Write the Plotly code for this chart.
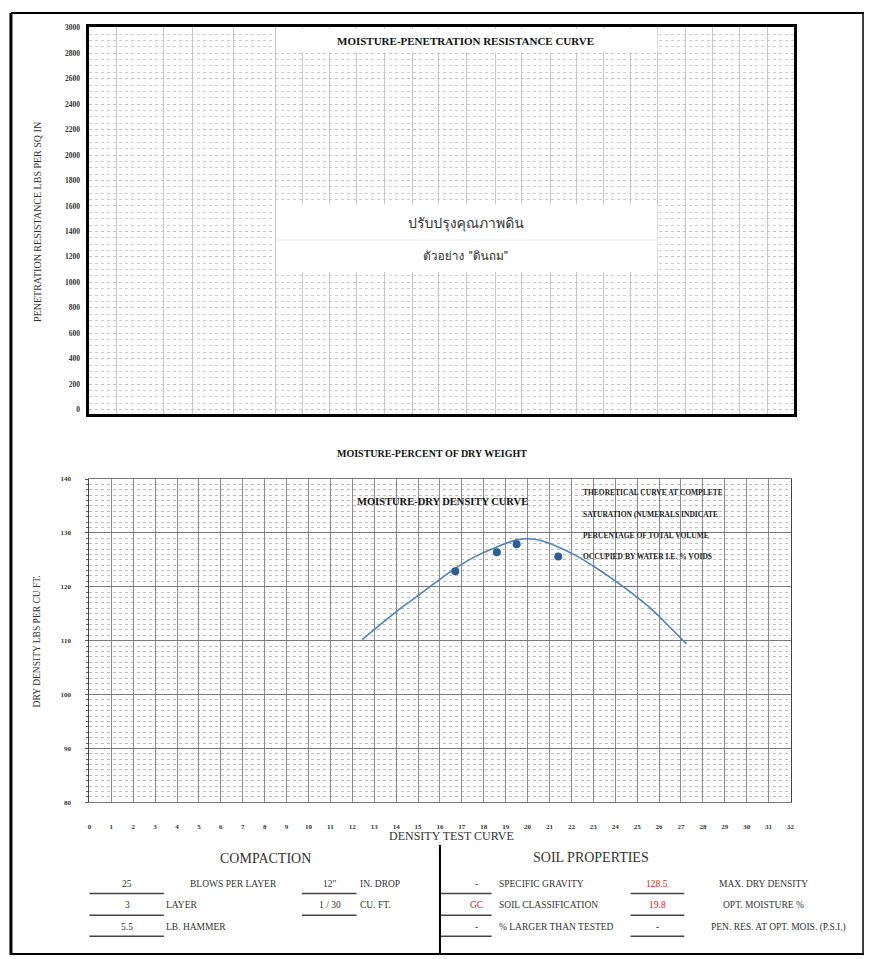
import plotly.graph_objects as go

# ---------------- data ----------------
pen_ticks = list(range(0, 3001, 200))
moisture_ticks = list(range(0, 33))
density_ticks = list(range(80, 141, 10))

# fitted moisture-density curve
curve_moisture = [12.45, 13.4, 14.2, 15.05, 15.9, 16.7, 17.6, 18.6, 19.5, 20.0,
                  20.6, 21.4, 22.3, 23.2, 24.0, 24.7, 25.5, 26.2, 27.25]
curve_density = [110.2, 113.4, 116.0, 118.5, 121.1, 123.4, 125.6, 127.4, 128.7, 128.9,
                 128.6, 127.4, 125.6, 123.3, 121.1, 119.0, 116.4, 113.7, 109.4]

# test points
test_moisture = [16.7, 18.6, 19.5, 21.4]
test_density = [122.9, 126.4, 127.9, 125.6]

note_lines = ["THEORETICAL CURVE AT COMPLETE",
              "SATURATION (NUMERALS INDICATE",
              "PERCENTAGE OF TOTAL VOLUME",
              "OCCUPIED BY WATER I.E. % VOIDS"]

thai_title = "ปรับปรุงคุณภาพดิน"
thai_sample = "ตัวอย่าง \"ดินถม\""

compaction_values = ["25", "3", "5.5"]
compaction_labels = ["BLOWS PER LAYER", "LAYER", "LB. HAMMER"]
drop_values = ["12\"", "1 / 30"]
drop_labels = ["IN. DROP", "CU. FT."]

soil_values_a = ["-", "GC", "-"]
soil_labels_a = ["SPECIFIC GRAVITY", "SOIL CLASSIFICATION", "% LARGER THAN TESTED"]
soil_values_b = ["128.5", "19.8", "-"]
soil_labels_b = ["MAX. DRY DENSITY", "OPT. MOISTURE %", "PEN. RES. AT OPT. MOIS. (P.S.I.)"]
red_a = [False, True, False]
red_b = [True, True, False]

# ---------------- helpers ----------------
W, H = 870, 959
SERIF = "Liberation Serif, Times New Roman, serif"
THAI = "Tahoma, Loma, Garuda, Noto Sans Thai, Noto Sans Thai UI, Tlwg Typo, Sarabun, Noto Sans, sans-serif"


def px(x):
    return x / W


def py(y):
    return 1 - y / H


annotations = []
shapes = []


def ann(text, x, y, size=10, bold=False, color="#222", xanchor="center",
        family=SERIF, angle=0):
    annotations.append(dict(
        text=text, x=px(x), y=py(y), xref="paper", yref="paper",
        showarrow=False, xanchor=xanchor, yanchor="middle", textangle=angle,
        font=dict(family=family, size=size, color=color,
                  weight="bold" if bold else "normal")))


def pline(x0, y0, x1, y1, width=1.0, color="black"):
    shapes.append(dict(type="line", xref="paper", yref="paper",
                       x0=px(x0), y0=py(y0), x1=px(x1), y1=py(y1),
                       line=dict(color=color, width=width), layer="above"))


# ---------------- figure ----------------
fig = go.Figure()
fig.add_trace(go.Scatter(x=curve_moisture, y=curve_density, mode="lines",
                         line=dict(color="#4F81BD", width=1.6, shape="spline"),
                         xaxis="x", yaxis="y", showlegend=False, hoverinfo="skip"))
fig.add_trace(go.Scatter(x=test_moisture, y=test_density, mode="markers",
                         marker=dict(color="#2F5C92", size=8),
                         xaxis="x", yaxis="y", showlegend=False))
fig.add_trace(go.Scatter(x=[None], y=[None], xaxis="x2", yaxis="y2", showlegend=False))

# top chart geometry (pixels)
T_L, T_R, T_T, T_B = 88, 797, 23, 413
top_grid_px = [115, 163, 192, 233, 275, 303, 330, 357, 385, 413, 440, 468, 497,
               523, 552, 578, 606, 633, 660, 688, 715, 743, 771]


def tx(p):
    return (p - T_L) / (T_R - T_L) * 32


u_per_px = 3000 / (409 - 24)


def ty(p):
    return (409 - p) * u_per_px


top_grid_x = [tx(p) for p in top_grid_px]
top_range = [ty(T_B), ty(T_T)]

tickfont_small = dict(family=SERIF, size=7, color="#333", weight="bold")

fig.update_layout(
    width=W, height=H, autosize=False,
    margin=dict(l=0, r=0, t=0, b=0),
    paper_bgcolor="white", plot_bgcolor="white",
    showlegend=False,
    xaxis=dict(domain=[px(88), px(794)], range=[0, 32], tickvals=moisture_ticks,
               showgrid=True, gridcolor="#8c8c8c", gridwidth=1, zeroline=False,
               showline=True, linecolor="#777", linewidth=1, mirror=True,
               ticks="", tickfont=tickfont_small, ticklabelstandoff=17, anchor="y"),
    yaxis=dict(domain=[py(805), py(479)], range=[80, 140], tickvals=density_ticks,
               showgrid=True, gridcolor="#7a7a7a", gridwidth=1, zeroline=False,
               showline=True, linecolor="#444", linewidth=1, mirror=True,
               ticks="outside", ticklen=3, tickcolor="#555",
               minor=dict(dtick=1, tick0=80, showgrid=True, gridcolor="#bdbdbd",
                          griddash="dot", ticks="outside", ticklen=2, tickcolor="#666"),
               tickfont=tickfont_small, ticklabelstandoff=13, anchor="x"),
    xaxis2=dict(domain=[px(T_L), px(T_R)], range=[0, 32], tickvals=top_grid_x,
                showticklabels=False, ticks="", showgrid=True, gridcolor="#c8c8c8",
                gridwidth=1, zeroline=False, showline=True, linecolor="black",
                linewidth=3, mirror=True, anchor="y2"),
    yaxis2=dict(domain=[py(T_B), py(T_T)], range=top_range, tickvals=pen_ticks,
                showgrid=True, gridcolor="#c4c4c4", griddash="dot", zeroline=False,
                minor=dict(dtick=50, tick0=0, showgrid=True, gridcolor="#cfcfcf",
                           griddash="dot"),
                showline=True, linecolor="black", linewidth=3, mirror=True,
                ticks="", tickfont=dict(family=SERIF, size=7.5, color="#333", weight="bold"),
                ticklabelstandoff=5, anchor="x2"),
)

# white boxes in the top chart (cover the grid, below the text)
shapes.append(dict(type="rect", xref="x2", yref="y2", x0=tx(276), x1=tx(660),
                   y0=ty(49), y1=ty(T_T + 2), fillcolor="white", line=dict(width=0),
                   layer="above"))
shapes.append(dict(type="rect", xref="x2", yref="y2", x0=tx(276), x1=tx(660),
                   y0=ty(270), y1=ty(202), fillcolor="white", line=dict(width=0),
                   layer="above"))
shapes.append(dict(type="line", xref="x2", yref="y2", x0=tx(276), x1=tx(660),
                   y0=ty(238), y1=ty(238), line=dict(color="#ececec", width=1),
                   layer="above"))

# outer frame
pline(9, 9, 9, 959, 3)
pline(9, 9, 868, 9, 2)
pline(867, 9, 867, 959, 1.5)
pline(9, 958, 868, 958, 2)
pline(441, 848, 441, 959, 2)

# top chart texts
ann("MOISTURE-PENETRATION RESISTANCE CURVE", 467, 37, size=11, bold=True, color="#111")
ann(thai_title, 467, 221, size=14, family=THAI, color="#333")
ann(thai_sample, 467, 254, size=12, family=THAI, color="#333")
ann("PENETRATION RESISTANCE LBS PER SQ IN", 35, 220, size=10, angle=-90, color="#333")

# bottom chart texts
ann("MOISTURE-PERCENT OF DRY WEIGHT", 433, 453, size=10, bold=True, color="#111")
ann("MOISTURE-DRY DENSITY CURVE", 444, 502, size=10.5, bold=True, color="#111")
for i, t in enumerate(note_lines):
    ann(t, 583, 493 + i * 21.3, size=7.5, bold=True, color="#222", xanchor="left")
ann("DRY DENSITY LBS PER CU FT.", 35, 643, size=9.5, angle=-90, color="#333")
ann("DENSITY TEST CURVE", 453, 839, size=12, color="#333")

# compaction table
ann("COMPACTION", 265, 862, size=14, color="#333")
ann("SOIL PROPERTIES", 593, 861, size=14, color="#333")
row_y = [887, 909, 931]
line_y = [897, 919, 940]
for i in range(3):
    ann(compaction_values[i], 126, row_y[i], size=9.5, color="#333")
    if i == 0:
        ann(compaction_labels[i], 233, row_y[i], size=9.5, color="#333")
    else:
        ann(compaction_labels[i], 163, row_y[i], size=9.5, color="#333", xanchor="left")
    pline(88, line_y[i], 163, line_y[i], 1.5, "#444")
for i in range(2):
    ann(drop_values[i], 330, row_y[i], size=9.5, color="#333")
    ann(drop_labels[i], 358, row_y[i], size=9.5, color="#333", xanchor="left")
    pline(302, line_y[i], 357, line_y[i], 1.5, "#444")

# soil properties table
for i in range(3):
    ann(soil_values_a[i], 478, row_y[i], size=9.5,
        color="#e02020" if red_a[i] else "#333")
    ann(soil_labels_a[i], 498, row_y[i], size=9.5, color="#333", xanchor="left")
    ann(soil_values_b[i], 660, row_y[i], size=9.5,
        color="#e02020" if red_b[i] else "#333")
    ann(soil_labels_b[i], 767 if i < 2 else 782, row_y[i], size=9.5, color="#333")
    pline(442, line_y[i], 493, line_y[i], 1.5, "#444")
    pline(633, line_y[i], 687, line_y[i], 1.5, "#444")

fig.update_layout(annotations=annotations, shapes=shapes)
fig.write_html("out.html", config={"displayModeBar": False},
               post_script="document.body.style.margin='0';document.body.style.overflow='hidden';")
